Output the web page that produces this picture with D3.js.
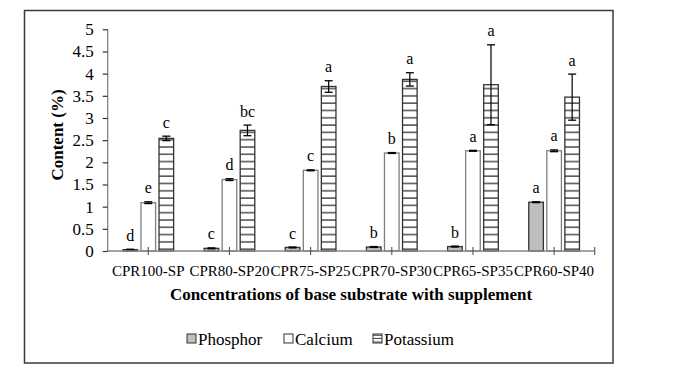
<!DOCTYPE html>
<html><head><meta charset="utf-8">
<script src="https://cdn.jsdelivr.net/npm/d3@7/dist/d3.min.js"></script>
<style>html,body{margin:0;padding:0;background:#fff;}svg{display:block;}</style>
</head><body><svg id="c" width="673" height="378"></svg>
<script>
const categories = ["CPR100-SP","CPR80-SP20","CPR75-SP25","CPR70-SP30","CPR65-SP35","CPR60-SP40"];
const seriesNames = ["Phosphor","Calcium","Potassium"];
const phosphor = [0.03,0.06,0.08,0.09,0.10,1.10];
const calcium = [1.09,1.61,1.82,2.21,2.26,2.26];
const potassium = [2.54,2.72,3.71,3.87,3.75,3.47];
const phosphorErr = [0.01,0.01,0.01,0.01,0.01,0.01];
const calciumErr = [0.02,0.02,0.01,0.01,0.01,0.02];
const potassiumErr = [0.05,0.12,0.13,0.15,0.90,0.52];
const phosphorLetters = ["d","c","c","b","b","a"];
const calciumLetters = ["e","d","c","b","a","a"];
const potassiumLetters = ["c","bc","a","a","a","a"];
const yTicks = [0,0.5,1,1.5,2,2.5,3,3.5,4,4.5,5];

const svg = d3.select("#c");
const font = "'Liberation Serif','Times New Roman',serif";

// frame
svg.append("rect").attr("x",24.5).attr("y",10.5).attr("width",588.5).attr("height",352.5)
  .attr("fill","#fff").attr("stroke","#3a3a3a").attr("stroke-width",1.5);

const defs = svg.append("defs");
const pat = defs.append("pattern").attr("id","stripes").attr("patternUnits","userSpaceOnUse")
  .attr("width",8).attr("height",7.3);
pat.append("rect").attr("width",8).attr("height",7.3).attr("fill","#fff");
pat.append("line").attr("x1",0).attr("x2",8).attr("y1",1).attr("y2",1).attr("stroke","#333").attr("stroke-width",1.3);
const patL = defs.append("pattern").attr("id","stripesL").attr("patternUnits","userSpaceOnUse")
  .attr("width",8).attr("height",3.4).attr("y",0);
patL.append("rect").attr("width",8).attr("height",3.4).attr("fill","#fff");
patL.append("line").attr("x1",0).attr("x2",8).attr("y1",1.2).attr("y2",1.2).attr("stroke","#333").attr("stroke-width",1);

const pLeft = 107.7, pRight = 594.7, pTop = 29.3, pBottom = 251;
const y = d3.scaleLinear().domain([0,5]).range([pBottom, pTop]);
const x0 = d3.scaleBand().domain(categories).range([pLeft,pRight]).padding(0);
const groupW = 50.7;
const x1 = d3.scaleBand().domain(seriesNames).range([0,groupW]).paddingInner(0.19);

const data = categories.map((c,i)=>({c, vals:[
  {s:"Phosphor", v:phosphor[i], e:phosphorErr[i], l:phosphorLetters[i]},
  {s:"Calcium", v:calcium[i], e:calciumErr[i], l:calciumLetters[i]},
  {s:"Potassium", v:potassium[i], e:potassiumErr[i], l:potassiumLetters[i]}
]}));
const fills = {Phosphor:"#bfbfbf", Calcium:"#ffffff", Potassium:"url(#stripes)"};
const strokes = {Phosphor:"#333", Calcium:"#7f7f7f", Potassium:"#333"};

// y axis
const yAxis = svg.append("g").attr("transform",`translate(${pLeft},0)`)
  .call(d3.axisLeft(y).tickValues(yTicks).tickSize(5).tickPadding(9).tickFormat(d=>String(d)));
yAxis.select(".domain").attr("stroke","#868686").attr("stroke-width",1.3).attr("d",`M0,${pBottom}V${pTop}`);
yAxis.selectAll(".tick line").attr("stroke","#333").attr("stroke-width",1.2);
yAxis.selectAll("text").attr("font-family",font).attr("font-size",17).attr("fill","#000");

const groups = svg.append("g").selectAll("g").data(data).join("g")
  .attr("transform",d=>`translate(${x0(d.c)+(x0.bandwidth()-groupW)/2},0)`);

groups.selectAll("rect").data(d=>d.vals).join("rect")
  .attr("x",d=>x1(d.s)).attr("width",x1.bandwidth())
  .attr("y",d=>y(d.v)).attr("height",d=>pBottom-y(d.v))
  .attr("fill",d=>fills[d.s]).attr("stroke",d=>strokes[d.s]).attr("stroke-width",1.3);

// error bars
const eb = groups.selectAll("g.err").data(d=>d.vals).join("g").attr("class","err");
const cx = d=>x1(d.s)+x1.bandwidth()/2;
eb.append("line").attr("x1",cx).attr("x2",cx)
  .attr("y1",d=>y(d.v+d.e)).attr("y2",d=>y(d.v-d.e)).attr("stroke","#000").attr("stroke-width",1.2);
eb.append("line").attr("x1",d=>cx(d)-4).attr("x2",d=>cx(d)+4)
  .attr("y1",d=>y(d.v+d.e)).attr("y2",d=>y(d.v+d.e)).attr("stroke","#000").attr("stroke-width",1.3);
eb.append("line").attr("x1",d=>cx(d)-4).attr("x2",d=>cx(d)+4)
  .attr("y1",d=>y(d.v-d.e)).attr("y2",d=>y(d.v-d.e)).attr("stroke","#000").attr("stroke-width",1.3);
eb.append("text").attr("x",cx).attr("y",d=>y(d.v+d.e)-8.5)
  .attr("text-anchor","middle").attr("font-family",font).attr("font-size",16).attr("fill","#000")
  .text(d=>d.l);

// x axis
const xg = svg.append("g").attr("transform",`translate(0,${pBottom})`);
xg.append("line").attr("x1",pLeft).attr("x2",pRight).attr("stroke","#868686").attr("stroke-width",1.3);
const tickXs = categories.map(c=>x0(c)+x0.bandwidth()/2).concat([pRight]);
xg.selectAll("line.t").data(tickXs).join("line").attr("class","t")
  .attr("x1",d=>d).attr("x2",d=>d).attr("y1",-4).attr("y2",4).attr("stroke","#555").attr("stroke-width",1.1);
xg.selectAll("text").data(categories).join("text")
  .attr("x",c=>x0(c)+x0.bandwidth()/2).attr("y",25)
  .attr("text-anchor","middle").attr("font-family",font).attr("font-size",15).attr("fill","#000").text(c=>c);

// titles
svg.append("text").attr("x",351).attr("y",300).attr("text-anchor","middle")
  .attr("font-family",font).attr("font-size",17).attr("font-weight","bold").text("Concentrations of base substrate with supplement");
svg.append("text").attr("transform","translate(63,135) rotate(-90)").attr("text-anchor","middle")
  .attr("font-family",font).attr("font-size",17).attr("font-weight","bold").text("Content (%)");

// legend
const legX = [187, 284, 373];
const legFills = {Phosphor:"#bfbfbf", Calcium:"#ffffff", Potassium:"url(#stripesL)"};
const leg = svg.append("g").selectAll("g").data(seriesNames).join("g")
  .attr("transform",(d,i)=>`translate(${legX[i]},334)`);
leg.append("rect").attr("width",9).attr("height",9)
  .attr("fill",d=>legFills[d]).attr("stroke","#333").attr("stroke-width",1);
leg.append("text").attr("x",11).attr("y",10.5).attr("font-family",font).attr("font-size",17).attr("fill","#000").text(d=>d);
</script></body></html>
